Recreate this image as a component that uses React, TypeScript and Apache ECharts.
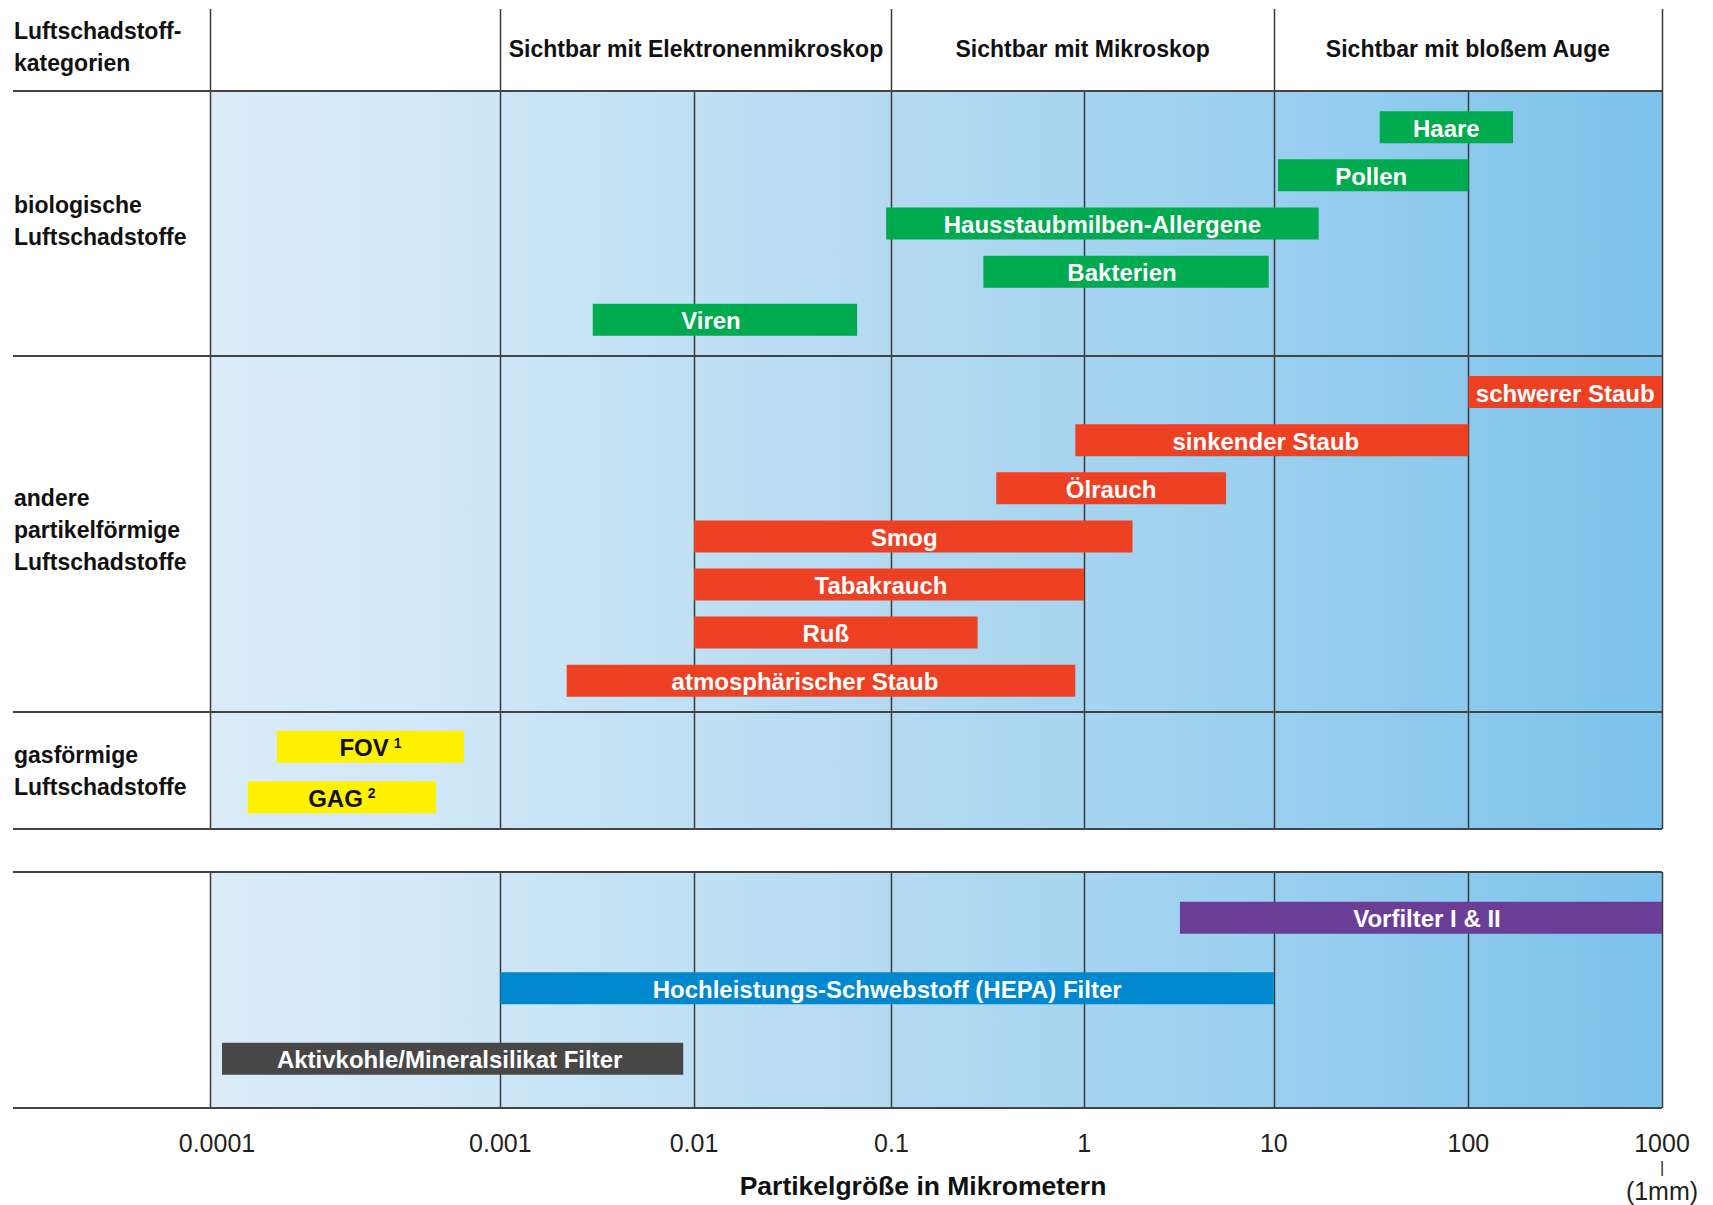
import React, { useEffect, useRef } from 'react';
import * as echarts from 'echarts';

// ---------- data (µm) ----------
const tickValues = [0.0001, 0.001, 0.01, 0.1, 1, 10, 100, 1000];
const tickLabels = ['0.0001', '0.001', '0.01', '0.1', '1', '10', '100', '1000'];

const visibilityNames = ['Sichtbar mit Elektronenmikroskop', 'Sichtbar mit Mikroskop', 'Sichtbar mit bloßem Auge'];
const visibilityStart = [0.001, 0.1, 10];
const visibilityEnd = [0.1, 10, 1000];
const headerLineValues = [0.0001, 0.001, 0.1, 10, 1000];

const bioNames = ['Haare', 'Pollen', 'Hausstaubmilben-Allergene', 'Bakterien', 'Viren'];
const bioMin = [35, 10.5, 0.094, 0.3, 0.003];
const bioMax = [170, 100, 17, 9.4, 0.067];

const particleNames = ['schwerer Staub', 'sinkender Staub', 'Ölrauch', 'Smog', 'Tabakrauch', 'Ruß', 'atmosphärischer Staub'];
const particleMin = [100, 0.9, 0.35, 0.01, 0.01, 0.01, 0.0022];
const particleMax = [1000, 100, 5.6, 1.8, 1, 0.28, 0.9];

const gasNames = ['FOV¹', 'GAG²'];
const gasMin = [0.00017, 0.000135];
const gasMax = [0.00075, 0.0006];

const filterNames = ['Vorfilter I & II', 'Hochleistungs-Schwebstoff (HEPA) Filter', 'Aktivkohle/Mineralsilikat Filter'];
const filterMin = [3.2, 0.001, 0.00011];
const filterMax = [1000, 10, 0.0088];

const categoryLabels = ['biologische\nLuftschadstoffe', 'andere\npartikelförmige\nLuftschadstoffe', 'gasförmige\nLuftschadstoffe'];
const cornerLabel = 'Luftschadstoff-\nkategorien';
const axisTitle = 'Partikelgröße in Mikrometern';

// ---------- styling / layout ----------
const FONT = '"Liberation Sans", Arial, Helvetica, sans-serif';
const GREEN = '#00aa4e';
const RED = '#ee4123';
const YELLOW = '#fff100';
const FILTER_COLORS = ['#6a3d97', '#0088cf', '#474747'];
const LINE = '#3a3a3a';
const BAR_H = 32;
const GL = 210;
const GW = 1452;
// horizontal nudges (px) of a few bar captions, as placed in the original artwork
const LABEL_NUDGE: Record<string, number> = {
  Viren: -14,
  'atmosphärischer Staub': -16,
  Smog: -9,
  Tabakrauch: -8,
  'Ruß': -10,
  'sinkender Staub': -6,
  Bakterien: -4,
  Pollen: -2,
  'Aktivkohle/Mineralsilikat Filter': -3,
  'Vorfilter I & II': 6,
};

// width of each decade on the drawing (the first decade is drawn wider)
const DECADE_SPAN = [1.5, 1.0, 1.02, 0.995, 0.98, 1.005, 1.0];
const DECADE_CUM = DECADE_SPAN.reduce((acc: number[], s) => [...acc, acc[acc.length - 1] + s], [0]);
const X_MAX = DECADE_CUM[DECADE_CUM.length - 1];
const toScale = (v: number) => {
  const l = Math.log10(v) + 4;
  const d = Math.max(0, Math.min(DECADE_SPAN.length - 1, Math.floor(l)));
  return DECADE_CUM[d] + (l - d) * DECADE_SPAN[d];
};
const tickPos = tickValues.map(toScale);

const bgGradient = () =>
  new echarts.graphic.LinearGradient(0, 0, 1, 0, [
    { offset: 0, color: '#dbecf8' },
    { offset: 0.2, color: '#cce6f7' },
    { offset: 0.47, color: '#b4daf2' },
    { offset: 0.73, color: '#9acfef' },
    { offset: 1, color: '#7dc3eb' },
  ]);

const toRich = (s: string) => s.replace(/¹/g, '{sup|1}').replace(/²/g, '{sup|2}');

function barSeries(gi: number, names: string[], mins: number[], maxs: number[], colors: string[], textColor: string) {
  return {
    type: 'custom',
    xAxisIndex: gi,
    yAxisIndex: gi,
    z: 5,
    clip: false,
    data: names.map((_, i) => [toScale(mins[i]), toScale(maxs[i]), i]),
    encode: { x: [0, 1], y: 2 },
    renderItem: (params: any, api: any) => {
      const i = api.value(2);
      const p0 = api.coord([api.value(0), i]);
      const p1 = api.coord([api.value(1), i]);
      const name = names[i];
      return {
        type: 'group',
        children: [
          {
            type: 'rect',
            shape: { x: p0[0], y: p0[1] - BAR_H / 2, width: p1[0] - p0[0], height: BAR_H },
            style: { fill: colors[i % colors.length] },
          },
          {
            type: 'text',
            x: (p0[0] + p1[0]) / 2 + (LABEL_NUDGE[name] || 0),
            y: p0[1] + 1,
            style: {
              text: toRich(name),
              fill: textColor,
              fontSize: 24,
              fontWeight: 'bold',
              fontFamily: FONT,
              align: 'center',
              verticalAlign: 'middle',
              rich: {
                sup: {
                  fontSize: 14,
                  fontWeight: 'bold',
                  fontFamily: FONT,
                  fill: textColor,
                  verticalAlign: 'top',
                  padding: [0, 0, 0, 5],
                },
              },
            },
          },
        ],
      };
    },
  };
}

function vLineSeries(gi: number, values: number[]) {
  return {
    type: 'custom',
    xAxisIndex: gi,
    yAxisIndex: gi,
    z: 2,
    clip: false,
    silent: true,
    data: values.map((v) => [toScale(v)]),
    encode: { x: 0 },
    renderItem: (params: any, api: any) => {
      const cs = params.coordSys;
      const x = Math.round(api.coord([api.value(0), 0])[0]) + 0.5;
      return {
        type: 'line',
        shape: { x1: x, y1: cs.y, x2: x, y2: cs.y + cs.height },
        style: { stroke: LINE, lineWidth: 1.5 },
      };
    },
  };
}

function headerTextSeries() {
  return {
    type: 'custom',
    xAxisIndex: 0,
    yAxisIndex: 0,
    z: 5,
    clip: false,
    data: visibilityNames.map((_, i) => [toScale(visibilityStart[i]), toScale(visibilityEnd[i]), i]),
    encode: { x: [0, 1] },
    renderItem: (params: any, api: any) => {
      const cs = params.coordSys;
      const i = api.value(2);
      const x0 = api.coord([api.value(0), 0])[0];
      const x1 = api.coord([api.value(1), 0])[0];
      return {
        type: 'text',
        x: (x0 + x1) / 2,
        y: cs.y + cs.height / 2 - 1,
        style: {
          text: visibilityNames[i],
          fill: '#111',
          fontSize: 23,
          fontWeight: 'bold',
          fontFamily: FONT,
          align: 'center',
          verticalAlign: 'middle',
        },
      };
    },
  };
}

const gridDefs = [
  { top: 9, height: 82, ymin: 0, ymax: 1, bg: false },
  { top: 91, height: 265, ymin: -0.75, ymax: 4.75, bg: true },
  { top: 356, height: 356, ymin: -0.75, ymax: 6.65, bg: true },
  { top: 712, height: 117, ymin: -0.69, ymax: 1.63, bg: true },
  { top: 872, height: 236, ymin: -0.65, ymax: 2.7, bg: true },
];

const hLines = [91, 356, 712, 829, 872, 1108];

function buildOption() {
  const grid = gridDefs.map((g) => ({
    left: GL,
    width: GW,
    top: g.top,
    height: g.height,
    show: g.bg,
    backgroundColor: g.bg ? bgGradient() : 'transparent',
    borderWidth: 0,
    containLabel: false,
  }));

  const xAxis = gridDefs.map((_, gi) => ({
    type: 'value',
    gridIndex: gi,
    min: 0,
    max: X_MAX,
    show: gi === 4,
    axisLine: { show: false },
    axisTick: { show: false },
    splitLine: { show: false },
    axisLabel: {
      show: gi === 4,
      customValues: tickPos,
      margin: 22,
      fontSize: 25,
      lineHeight: 26,
      fontFamily: FONT,
      color: '#231f20',
      showMinLabel: true,
      showMaxLabel: true,
      formatter: (v: number) => {
        const idx = tickPos.findIndex((p) => Math.abs(p - v) < 1e-6);
        if (idx < 0) return '';
        if (idx === 0) return '{first|' + tickLabels[0] + '}';
        if (idx === tickLabels.length - 1) return tickLabels[idx] + '\n{bar||}\n(1mm)';
        return tickLabels[idx];
      },
      rich: {
        first: { fontSize: 25, fontFamily: FONT, color: '#231f20', padding: [0, 0, 0, 14], lineHeight: 26 },
        bar: { fontSize: 16, fontFamily: FONT, color: '#231f20', lineHeight: 22 },
      },
    },
  }));

  const yAxis = gridDefs.map((g, gi) => ({
    type: 'value',
    gridIndex: gi,
    inverse: true,
    min: g.ymin,
    max: g.ymax,
    show: false,
  }));

  const series: any[] = [
    vLineSeries(0, headerLineValues),
    headerTextSeries(),
    vLineSeries(1, tickValues),
    vLineSeries(2, tickValues),
    vLineSeries(3, tickValues),
    vLineSeries(4, tickValues),
    barSeries(1, bioNames, bioMin, bioMax, [GREEN], '#ffffff'),
    barSeries(2, particleNames, particleMin, particleMax, [RED], '#ffffff'),
    barSeries(3, gasNames, gasMin, gasMax, [YELLOW], '#111111'),
    barSeries(4, filterNames, filterMin, filterMax, FILTER_COLORS, '#ffffff'),
  ];

  const sideText = (text: string, y: number) => ({
    type: 'text',
    x: 14,
    y,
    style: { text, fill: '#111', fontSize: 23, fontWeight: 'bold', fontFamily: FONT, lineHeight: 32, verticalAlign: 'middle' },
  });

  const graphic: any[] = [
    ...hLines.map((y) => ({
      type: 'line',
      z: 10,
      shape: { x1: 13, y1: y, x2: GL + GW, y2: y },
      style: { stroke: '#444', lineWidth: 2 },
    })),
    sideText(cornerLabel, 47),
    sideText(categoryLabels[0], 221),
    sideText(categoryLabels[1], 530),
    sideText(categoryLabels[2], 771),
    {
      type: 'text',
      x: 923,
      y: 1186,
      style: { text: axisTitle, fill: '#111', fontSize: 26.5, fontWeight: 'bold', fontFamily: FONT, align: 'center', verticalAlign: 'middle' },
    },
  ];

  return {
    animation: false,
    backgroundColor: '#ffffff',
    grid,
    xAxis,
    yAxis,
    series,
    graphic,
  };
}

export default function App() {
  const ref = useRef<HTMLDivElement>(null);
  useEffect(() => {
    if (!ref.current) return;
    const chart = echarts.init(ref.current, null, { renderer: 'svg' });
    chart.setOption(buildOption() as any);
    return () => chart.dispose();
  }, []);
  return (
    <div
      ref={ref}
      style={{ position: 'absolute', left: 0, top: 0, width: 1713, height: 1205, background: '#fff' }}
    />
  );
}
